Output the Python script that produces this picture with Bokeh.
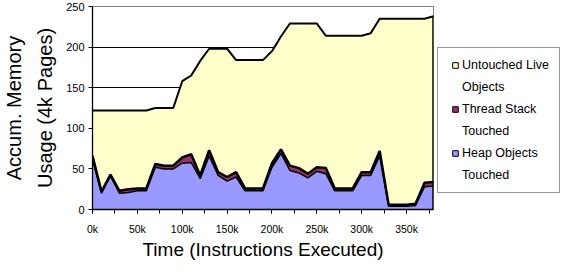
from bokeh.plotting import figure
from bokeh.layouts import row
from bokeh.models import (ColumnDataSource, Legend, LegendItem, SingleIntervalTicker,
                          FixedTicker, PrintfTickFormatter, Range1d)
from bokeh.transform import stack
from bokeh.embed import file_html
from bokeh.resources import INLINE

# Time in thousands of instructions executed
time_k = [0, 10, 20, 30, 40, 50, 60, 70, 80, 90, 100, 110, 120, 130, 140, 150, 160, 170, 180, 190,
          200, 210, 220, 230, 240, 250, 260, 270, 280, 290, 300, 310, 320, 330, 340, 350, 360, 370, 380]
heap_touched = [62, 20, 41, 20, 21, 23, 23, 52, 50, 50, 57, 58, 38, 66, 42, 35, 40, 23, 23, 23,
                52, 69, 48, 45, 39, 47, 44, 23, 23, 23, 42, 42, 66, 4, 4, 4, 5, 28, 29]
stack_touched = [4, 2, 2, 3, 4, 3, 3, 4, 4, 4, 7, 10, 4, 7, 4, 5, 6, 3, 3, 3,
                 5, 5, 6, 6, 5, 5, 7, 3, 3, 3, 4, 4, 6, 2, 2, 2, 2, 5, 5]
untouched_live = [56, 100, 79, 99, 97, 96, 96, 69, 71, 71, 94, 97, 141, 125, 152, 158, 138, 158, 158, 158,
                  138, 139, 175, 178, 185, 177, 163, 188, 188, 188, 168, 171, 163, 229, 229, 229, 228, 202, 204]

series_names = ["Untouched Live", "Thread Stack", "Heap Objects"]
series_second = ["Objects", "Touched", "Touched"]
y_ticks = [0, 50, 100, 150, 200, 250]

FONT = "Liberation Sans"
C_UNT = "#FFFFCC"
C_STK = "#993366"
C_HEAP = "#9999FF"

H = 262
W_MAIN, W_LEG = 436, 124

src = ColumnDataSource(dict(x=time_k, heap=heap_touched, stk=stack_touched, unt=untouched_live))

p = figure(width=W_MAIN, height=H, output_backend="svg", toolbar_location=None,
           x_range=Range1d(time_k[0], time_k[-1]), y_range=Range1d(y_ticks[0], y_ticks[-1]),
           min_border_left=90, min_border_right=3, min_border_top=6, min_border_bottom=40)
p.background_fill_color = "white"
p.border_fill_color = "white"
p.outline_line_color = "#808080"
p.outline_line_width = 1

# stacked areas
p.varea_stack(stackers=["heap", "stk", "unt"], x="x", color=[C_HEAP, C_STK, C_UNT], source=src)
# series borders
p.line(x="x", y=stack("heap"), source=src, line_color="black", line_width=1.5)
p.line(x="x", y=stack("heap", "stk"), source=src, line_color="black", line_width=2.5)
p.line(x="x", y=stack("heap", "stk", "unt"), source=src, line_color="black", line_width=2)
last_total = heap_touched[-1] + stack_touched[-1] + untouched_live[-1]
p.segment(x0=[time_k[-1]], y0=[0], x1=[time_k[-1]], y1=[last_total], line_color="black", line_width=2.5)

# axes
p.xaxis.ticker = SingleIntervalTicker(interval=50, num_minor_ticks=2)
p.xaxis.formatter = PrintfTickFormatter(format="%dk")
p.yaxis.ticker = FixedTicker(ticks=y_ticks)
for ax in (p.xaxis[0], p.yaxis[0]):
    ax.axis_line_color = "black"
    ax.axis_line_width = 1.3
    ax.major_tick_line_color = "black"
    ax.minor_tick_line_color = "black"
    ax.major_tick_out = 4
    ax.major_tick_in = 0
    ax.minor_tick_out = 4
    ax.minor_tick_in = 0
    ax.major_label_text_font = FONT
    ax.major_label_text_color = "black"
    ax.axis_label_text_font = FONT
    ax.axis_label_text_font_style = "normal"
    ax.axis_label_text_color = "black"
p.xaxis.axis_label_text_font_size = "19px"
p.yaxis.axis_label_text_font_size = "20px"
p.xaxis.major_label_text_font_size = "10.5px"
p.yaxis.major_label_text_font_size = "11px"
p.yaxis.minor_tick_line_color = None
p.xaxis.major_label_standoff = 9
p.yaxis.major_label_standoff = 4
p.xaxis.axis_label = "Time (Instructions Executed)"
p.xaxis.axis_label_standoff = 1
p.yaxis.axis_label = "Accum. Memory\nUsage (4k Pages)"
p.yaxis.axis_label_standoff = 7
p.yaxis.axis_label_text_line_height = 1.4

p.xgrid.visible = False
p.ygrid.ticker = FixedTicker(ticks=y_ticks[1:-1])
p.ygrid.grid_line_color = "black"
p.ygrid.grid_line_width = 1

# legend panel (separate figure beside the plot; its frame is aligned with the plot's frame)
q = figure(width=W_LEG, height=H, output_backend="svg", toolbar_location=None,
           x_range=Range1d(1, 2), y_range=Range1d(1, 2), min_border=0)
q.axis.visible = False
q.grid.visible = False
q.outline_line_color = None
q.border_fill_color = "white"

colors = [C_UNT, C_STK, C_HEAP]
items = []
for name, second, c in zip(series_names, series_second, colors):
    r1 = q.scatter(x=[time_k[0]], y=[y_ticks[0]], size=0, marker="square",
                   fill_color=c, line_color="black", line_width=1)
    r2 = q.scatter(x=[time_k[0]], y=[y_ticks[0]], size=0, marker="square",
                   fill_alpha=0, line_alpha=0)
    items.append(LegendItem(label=name, renderers=[r1]))
    items.append(LegendItem(label=second, renderers=[r2]))
legend = Legend(items=items, location=(1, 16), margin=0, padding=10, spacing=8,
                glyph_width=14, glyph_height=14, label_height=12, label_standoff=-2,
                label_text_font=FONT, label_text_font_size="12.5px", label_text_color="black",
                border_line_color="#333333", border_line_width=1, background_fill_color="white",
                label_text_baseline="middle")
q.add_layout(legend, "center")

layout = row(p, q, spacing=0)
open("out.html", "w").write(file_html(layout, INLINE))
